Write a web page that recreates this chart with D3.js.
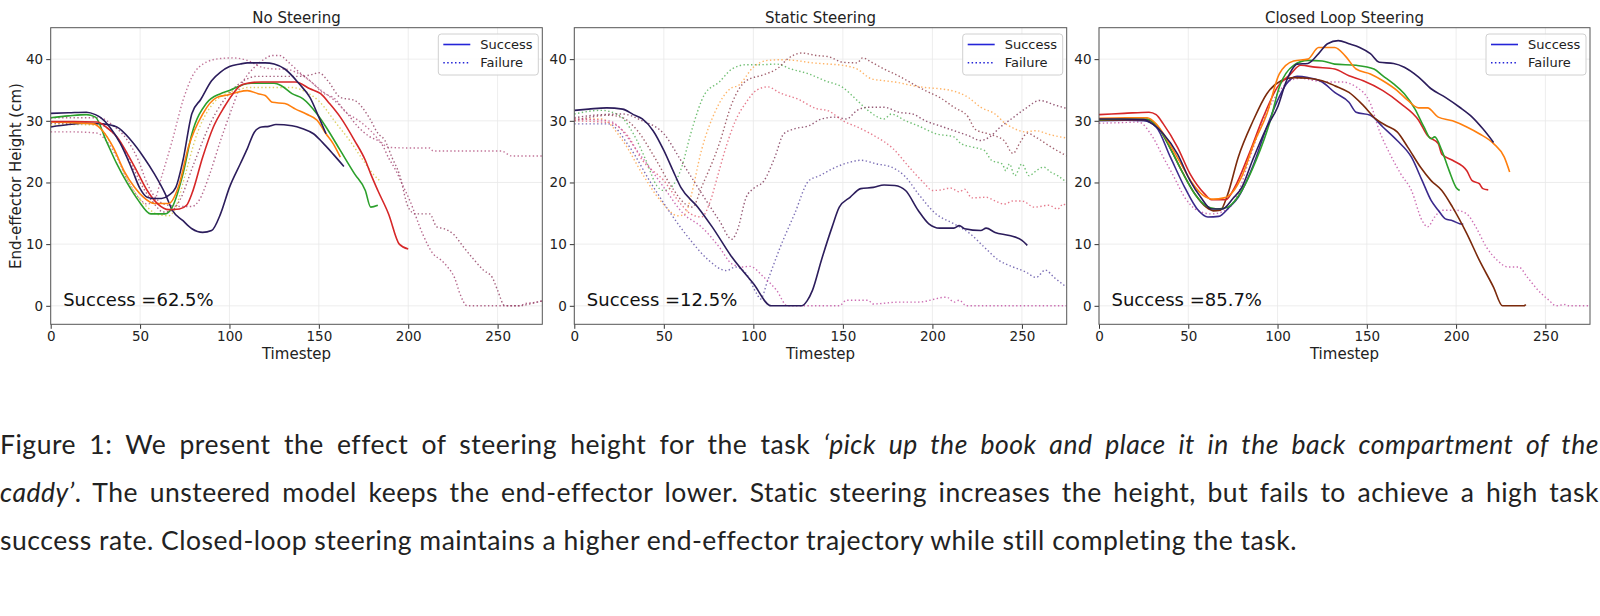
<!DOCTYPE html>
<html><head><meta charset="utf-8">
<script src="https://cdn.jsdelivr.net/npm/d3@7"></script>
<style>html,body{margin:0;padding:0;background:#fff;} svg{display:block;}</style>
</head><body><svg id="chart" width="1600" height="616"></svg>
<script>
// ---------------- DATA ----------------
const panelTitles = ["No Steering", "Static Steering", "Closed Loop Steering"];
const successRates = ["Success =62.5%", "Success =12.5%", "Success =85.7%"];
const xTicks = [0, 50, 100, 150, 200, 250];
const yTicks = [0, 10, 20, 30, 40];
const xLabel = "Timestep";
const yLabel = "End-effector Height (cm)";
const legendLabels = ["Success", "Failure"];

// No Steering – successes
const ns_s1 = [[0,31.2],[10,31.3],[20,31.4],[25,31.0],[28,30.5],[33,29],[39,26.3],[45,22.5],[50,19],[54,17.6],[58,17.4],[62,17.4],[66,17.9],[70,19.2],[74,23.6],[79,31.2],[84,33.5],[90,36.5],[95,37.9],[100,38.8],[106,39.2],[110,39.4],[120,39.4],[125,39.2],[131,38.4],[139,36],[145,33.8],[150,30.6],[154,27.9]];
const ns_s2 = [[0,29],[10,29.4],[20,29.6],[29,29.5],[37,29],[45,26.8],[52,24.1],[58,21.4],[64,18.2],[68,15.5],[74,13.8],[79,12.5],[85,11.9],[90,12.2],[95,14.9],[100,19.2],[106,23],[110,25.5],[114,28.2],[118,29],[122,29.1],[126,29.4],[135,29.2],[141,28.7],[147,27.9],[152,26.5],[158,24.6],[164,22.6]];
const ns_s3 = [[0,30.5],[10,30.8],[20,31],[25,30.6],[31,26.8],[37,23],[43,19.8],[49,17.1],[56,14.9],[64,14.9],[68,16],[74,21.4],[79,27.9],[87,32.8],[95,34.4],[100,34.9],[106,35.7],[112,36.1],[125,36.1],[129,35.7],[135,34.4],[141,33.6],[149,31.1],[154,29],[162,25.2],[170,21.4],[176,18.7],[179,16],[183,16.3]];
const ns_s4 = [[0,29.8],[12,29.7],[24,29.5],[29,28.4],[35,25.7],[41,21.9],[47,19.2],[52,17.6],[58,16.6],[66,16.6],[72,19.8],[77,25.7],[85,31.1],[93,33.8],[99,34.2],[104,34.6],[110,34.9],[116,34.4],[120,34.1],[124,33],[131,32.8],[137,31.9],[143,31.1],[149,30.1],[154,27.9],[158,26.3],[162,24.1]];
const ns_s5 = [[0,29.9],[13,29.9],[26,29.8],[31,29],[37,27.4],[43,24.6],[49,21.4],[54,18.7],[60,16.5],[66,15.6],[72,15.7],[76,16.3],[79,18.2],[85,24.1],[91,29],[97,32.2],[102,34.4],[106,35.7],[110,36.1],[118,36.3],[137,36.3],[145,35.2],[151,34.4],[156,32.8],[162,30.6],[170,26.8],[176,23.6],[179,21.4],[183,18.7],[189,14.9],[195,10],[200,9.2]];
// No Steering – failures
const ns_f1 = [[0,28.2],[13,28.2],[26,28],[31,26.8],[37,24.1],[43,20.3],[49,17.6],[54,16.5],[58,17.1],[62,20.9],[68,26.8],[74,33.3],[79,37.1],[87,39.5],[95,40.1],[102,40.2],[110,39.8],[118,38.7],[126,38.4],[131,38.4],[137,37.9],[145,36.5],[152,34.6],[160,33.3],[164,31.7],[172,30.1],[179,28.4],[185,26.5],[189,25.7],[200,25.6],[212,25.6],[214,25.1],[252,25.1],[258,24.3],[275,24.3]];
const ns_f2 = [[0,30.5],[14,30.5],[27,30.5],[35,29.2],[43,26.8],[49,23.6],[54,19.8],[60,17.1],[66,16.3],[74,16.1],[79,16.1],[83,17.1],[89,21.4],[95,26.8],[101,31.7],[106,35.5],[114,38.7],[120,40.1],[124,40.6],[128,40.6],[133,39.5],[139,37.9],[145,36.5],[151,35],[158,33.5],[165,31.5],[172,29],[178,27.5],[185,26.3],[189,24],[193,22],[197,19.5],[201,17],[208,11.7],[214,8.4],[218,7.5],[222,6.3],[226,4.5],[229,1.9],[233,0],[262,0],[266,0.4],[270,0.5],[275,0.8]];
const ns_f3 = [[0,29.6],[12,29.6],[25,29.5],[35,28],[45,23],[52,19],[58,16.5],[63,15.2],[68,15.5],[72,17],[80,23],[90,30],[100,34.5],[108,36.5],[115,37.2],[140,37.2],[146,37.5],[150,37.8],[155,36.5],[162,33.8],[170,33.3],[178,30.6],[183,28],[187,26.8],[191,24],[195,21.4],[200,16],[204,14.9],[212,14.9],[216,12.8],[220,12.5],[225,11.7],[231,9.5],[237,7.4],[242,5.8],[247,4.6],[250,2.5],[254,0],[262,0],[268,0.3],[272,0.6],[275,0.8]];
const ns_f4 = [[0,29.3],[12,29.4],[25,29.3],[30,28],[36,25],[42,21],[48,18],[54,16],[60,14.8],[66,14.6],[70,16],[75,21],[82,28],[90,32.5],[98,34.4],[105,35],[110,35.4],[135,35.4],[142,34.8],[150,33.2],[160,29.5],[168,26.5],[175,23.5],[180,21.5],[184,20.3]];

// Static Steering – success
const ss_s1 = [[0,31.7],[8,31.9],[18,32.1],[27,31.9],[33,31],[38,30.3],[44,28.4],[50,25.2],[55,22],[59.5,19.2],[69,16],[77,12.8],[88,7.9],[100,3.6],[110,0],[127,0],[130,0.8],[133,2.5],[138,7.4],[144,12.8],[148,16],[154,17.6],[160,19],[167,19.2],[173,19.6],[179,19.5],[185,18.7],[192,15.5],[198,13.3],[204,12.6],[212,12.6],[215,13],[218,12.5],[227,12.2],[230,12.6],[235,11.9],[243,11.4],[250,10.6],[253,9.8]];
// Static Steering – failures
const ss_f1 = [[0,31.1],[15,31.7],[25,30.9],[33,27.9],[40,23.6],[46,19.5],[50,18.7],[54,19.2],[60,22.5],[65,27.9],[73,34.4],[81,36.3],[88,38.4],[96,39.1],[104,39.1],[113,39.2],[121,38.4],[131,37.6],[140,36.5],[150,35.4],[158,33.3],[164,31.7],[173,30.3],[177,31.1],[185,30],[192,29.2],[202,27.9],[212,27.4],[216,26.3],[223,25.7],[229,25.2],[233,23.6],[239,23],[241,21.9],[243,23],[246,21.1],[250,23],[254,21.1],[258,21.9],[262,22.5],[266,21.7],[270,21.1],[275,20]];
const ss_f2 = [[0,30.3],[15,30.3],[27,26.8],[38,21.4],[48,17.1],[58,14.6],[62,14.9],[65,17.6],[71,25.2],[79,31.7],[87,35.2],[92,35.8],[100,38.7],[108,39.8],[115,39.9],[123,39.8],[133,39.4],[142,39.2],[150,39],[158,38.4],[166,36.8],[173,36.5],[181,36.2],[189,35.7],[196,35.4],[204,35.2],[212,34.8],[220,33.8],[227,32.2],[235,31.1],[241,29.5],[246,28.7],[252,28.2],[258,28.4],[265,27.8],[275,27.2]];
const ss_f3 = [[0,30],[19,30.9],[27,30.5],[35,28.5],[45,24],[55,19],[62,16.5],[66,16],[71,19.2],[81,26.3],[88,32.8],[96,36.5],[106,37.5],[114,38.6],[119,40],[127,41],[135,40.6],[142,40.4],[150,39.5],[158,39.4],[161,40.2],[166,39.5],[173,38.4],[181,37.3],[189,36],[196,34.9],[204,33.8],[212,32.2],[220,30.6],[224,28.6],[231,27.9],[240,26.8],[245,24.7],[249,26.5],[253,28],[258,27.3],[266,25.8],[275,24.3]];
const ss_f4 = [[0,30.5],[15,31],[27,31.1],[38,30],[50,27.9],[59.5,23.6],[69,19.2],[81,13.8],[88,10.8],[91,12.2],[96,17.6],[100,19],[106,20.3],[112,24.1],[117,27.9],[123,28.7],[131,29.2],[138,30.3],[146,30.6],[152,30.3],[158,31.7],[164,32.2],[173,32.2],[181,31.4],[189,31.1],[196,30],[204,29.2],[212,28.4],[220,27.6],[227,26.8],[232,27.4],[238,29],[245,30.5],[252,32],[260,33.3],[268,32.6],[275,32]];
const ss_f5 = [[0,30],[19,29.7],[30,27.5],[38,23.6],[50,20.3],[59.5,16.5],[65,14.9],[71,14.4],[76,17],[80,21],[85,26],[90,30],[96,33],[102,35],[108,35.5],[115,34.5],[125,33.5],[135,32],[142,31.6],[150,30],[158,29],[168,27.5],[178,25.5],[187,22.5],[195,20],[200,18.7],[205,18.8],[210,19.1],[215,18.5],[218,18.9],[222,17.5],[230,17.6],[235,17],[240,16.5],[245,17],[250,17],[257,16],[265,16.3],[270,15.7],[273,16.5],[275,16]];
const ss_f6 = [[0,29.5],[19,29.5],[31,25.7],[42,20.3],[54,14.9],[65,10.6],[75,7.4],[85,5.7],[90,6.3],[96,5.2],[102,1.9],[104,1.1],[108,4.1],[115,9.5],[123,14.9],[131,20.3],[137,21.1],[144,22.2],[154,23.3],[160,23.6],[169,23],[177,22.5],[185,20.9],[192,18.2],[202,14.9],[212,13.3],[221,11.7],[229,9.5],[237,7.4],[245,6.3],[252,5.5],[258,4.6],[263,5.8],[268,4.6],[275,3]];
const ss_f7 = [[0,30.3],[19,30],[38,24],[50,19.2],[61,14.9],[71,12.8],[81,9.5],[88,6.8],[94,6.3],[98,6.4],[106,4.6],[113,2.5],[119,0],[148,0],[152,0.9],[164,0.9],[167,0.3],[181,0.6],[192,0.6],[208,1.4],[212,0.6],[215,0.9],[219,0],[275,0]];

// Closed Loop Steering – successes
const cl_s1 = [[0,30.3],[12,30.3],[25,30.2],[30,29.5],[36,27.9],[44,24.6],[51,20.3],[57,17.6],[63,15.7],[69,15.7],[75,17.4],[80,19.2],[86,23.6],[94,29],[100,32.2],[105,36.5],[111,39.2],[117,39.3],[123,40.9],[128,42.5],[134,43],[140,42.5],[146,41.9],[152,40.9],[157,39.5],[165,39.3],[171,38.7],[179,37.1],[186,35.2],[194,33.8],[202,32.2],[209,30.6],[215,28.7],[221,26.5]];
const cl_s2 = [[0,30.4],[15,30.5],[27,30.5],[32,29.5],[38,27],[45,23.5],[52,20],[58,18],[64,17.3],[70,17.5],[75,18.5],[80,21],[87,26.5],[94,31.1],[101,37.6],[109,39.7],[117,40],[123,41.9],[132,41.9],[138,40.5],[144,38.4],[152,37.6],[159,36.5],[167,34.9],[173,33.3],[179,32.1],[184,32.1],[190,30.6],[198,30],[206,29],[213,27.9],[221,26.3],[227,24.1],[230,21.7]];
const cl_s3 = [[0,30.2],[15,30.3],[27,30.3],[33,29],[40,25.5],[47,21.5],[54,18],[60,16.2],[66,15.7],[72,16],[76,17],[80,18.7],[88,23.6],[96,30.1],[101,35.5],[109,39],[117,39.8],[125,39.7],[132,39.2],[144,39],[154,38.4],[159,37.3],[165,36],[171,34.4],[177,31.9],[182,29],[186,27.1],[188,27.4],[192,25.2],[196,22],[200,19.2],[202,18.7]];
const cl_s4 = [[0,31],[14,31.2],[28,31.4],[32,31],[36,29.5],[44,25.7],[51,21.4],[59,18.2],[63,17.2],[71,17.2],[76,19.2],[84,24.6],[92,30.6],[100,35.5],[107,37.5],[113,39],[121,38.7],[132,38.4],[140,37.3],[148,36.5],[159,34.9],[169,32.8],[179,30.1],[184,27.6],[190,26.3],[192,24.6],[198,23.6],[206,21.9],[209,20.3],[213,19.8],[215,19],[218,18.8]];
const cl_s5 = [[0,30.1],[15,30.2],[27,30.2],[33,29],[40,25.5],[47,21.5],[54,18],[60,16],[64,15.4],[68,15.5],[72,18],[78,24.1],[86,29.8],[94,34.4],[102,36.5],[109,37],[117,36.9],[125,36.5],[132,35.7],[140,34.6],[148,32.5],[155,30.3],[161,29.2],[167,28.2],[173,25.7],[180,22.5],[186,20.3],[192,18.7],[198,16],[206,11.7],[213,7.4],[221,3],[226,0],[238,0],[239,0.2]];
const cl_s6 = [[0,30],[15,30.1],[25,30],[32,29],[40,24.1],[48,19.2],[55,15.7],[61,14.4],[67,14.5],[73,16],[78,17.6],[86,22.5],[94,29],[100,33.3],[105,36],[111,37.2],[117,37],[125,36.3],[132,34.6],[140,33],[144,31.4],[152,30.9],[159,29],[167,26.8],[175,24.1],[181,20.3],[186,17.1],[190,15.5],[194,14.1],[198,13.8],[202,13.3],[204,13.2]];
// Closed Loop Steering – failure
const cl_f1 = [[0,29.6],[12,29.7],[22,29.8],[30,27.4],[36,24.1],[42,20.9],[48,17.6],[55,15.5],[63,14.9],[71,15.5],[77,17.6],[84,23.6],[92,30.1],[100,34.4],[107,36.5],[113,36.9],[121,36.5],[128,36.3],[136,36.3],[144,35.5],[152,32.8],[157,28.4],[163,24.6],[169,21.4],[175,18.7],[181,13.8],[184,12.8],[188,14.4],[192,15.5],[200,15.5],[206,14.9],[211,12.8],[217,9.5],[223,7.4],[229,6.3],[235,6.3],[240,4.6],[246,2.5],[252,0.9],[256,0],[261,0.2],[263,0],[275,0]];

const captionLines = [
  [["Figure 1: We present the effect of steering height for the task ", false], ["‘pick up the book and place it in the back compartment of the", true]],
  [["caddy’", true], [". The unsteered model keeps the end-effector lower. Static steering increases the height, but fails to achieve a high task", false]],
  [["success rate. Closed-loop steering maintains a higher end-effector trajectory while still completing the task.", false]]
];

// ---------------- STYLE / LAYOUT ----------------
const C = {navy:"#2c1d5c", indigo:"#3b2a8c", green:"#2ca02c", orange:"#ff7f0e", red:"#d62728", brown:"#7b2a0c",
  pink:"#b2507e", pink2:"#a0406e", pink3:"#8e3a5e", yellow:"#d4c43a",
  lgreen:"#4caf50", lorange:"#ffa040", maroon:"#8b3a4a", maroon2:"#7a3052", lred:"#e05a70", lnavy:"#5a4aa2", magenta:"#c04aa0"};

const panels = [
  {title:panelTitles[0], rate:successRates[0], left:50.7, right:542.3, series:[
    {d:ns_f1,c:C.pink,f:1},{d:ns_f2,c:C.pink2,f:1},{d:ns_f3,c:C.pink3,f:1},{d:ns_f4,c:C.yellow,f:1},
    {d:ns_s2,c:C.navy},{d:ns_s3,c:C.green},{d:ns_s4,c:C.orange},{d:ns_s5,c:C.red},{d:ns_s1,c:C.navy}]},
  {title:panelTitles[1], rate:successRates[1], left:574.3, right:1066.7, series:[
    {d:ss_f1,c:C.lgreen,f:1},{d:ss_f2,c:C.lorange,f:1},{d:ss_f3,c:C.maroon,f:1},{d:ss_f4,c:C.maroon2,f:1},
    {d:ss_f5,c:C.lred,f:1},{d:ss_f6,c:C.lnavy,f:1},{d:ss_f7,c:C.magenta,f:1},{d:ss_s1,c:C.navy}]},
  {title:panelTitles[2], rate:successRates[2], left:1099, right:1590, series:[
    {d:cl_f1,c:C.magenta,f:1},
    {d:cl_s6,c:C.indigo},{d:cl_s5,c:C.brown},{d:cl_s4,c:C.red},{d:cl_s3,c:C.green},{d:cl_s2,c:C.orange},{d:cl_s1,c:C.navy}]}
];
const plotTop = 27.7, plotBottom = 324.3;
const FONT = "'DejaVu Sans', sans-serif";

const svg = d3.select("#chart");
svg.append("rect").attr("width",1600).attr("height",616).attr("fill","#fff");

panels.forEach((p, i) => {
  const x = d3.scaleLinear().domain([0, 275]).range([p.left, p.right]);
  const y = d3.scaleLinear().domain([-3.0, 45.1]).range([plotBottom, plotTop]);
  const g = svg.append("g");

  // grid
  g.selectAll(".gx").data(xTicks).join("line")
    .attr("x1", d => x(d)).attr("x2", d => x(d)).attr("y1", plotTop).attr("y2", plotBottom)
    .attr("stroke", "#e8e8e8").attr("stroke-width", 0.8);
  g.selectAll(".gy").data(yTicks).join("line")
    .attr("x1", p.left).attr("x2", p.right).attr("y1", d => y(d)).attr("y2", d => y(d))
    .attr("stroke", "#e8e8e8").attr("stroke-width", 0.8);

  // lines
  const clipId = "clip" + i;
  svg.append("clipPath").attr("id", clipId).append("rect")
    .attr("x", p.left).attr("y", plotTop).attr("width", p.right - p.left).attr("height", plotBottom - plotTop);
  const line = d3.line().x(d => x(d[0])).y(d => y(d[1])).curve(d3.curveMonotoneX);
  const lg = g.append("g").attr("clip-path", `url(#${clipId})`);
  p.series.forEach(s => {
    lg.append("path").attr("d", line(s.d)).attr("fill", "none")
      .attr("stroke", s.c).attr("stroke-width", s.f ? 1.4 : 1.6)
      .attr("stroke-opacity", s.f ? 0.8 : 1)
      .attr("stroke-dasharray", s.f ? "1.4,2.4" : null)
      .attr("stroke-linejoin", "round");
  });

  // axes
  const ax = g.append("g").attr("transform", `translate(0,${plotBottom})`)
    .call(d3.axisBottom(x).tickValues(xTicks).tickSize(4.5).tickPadding(3));
  const ay = g.append("g").attr("transform", `translate(${p.left},0)`)
    .call(d3.axisLeft(y).tickValues(yTicks).tickSize(4.5).tickPadding(3));
  [ax, ay].forEach(a => {
    a.select(".domain").remove();
    a.selectAll("line").attr("stroke", "#333");
    a.selectAll("text").attr("font-family", FONT).attr("font-size", 13.5).attr("fill", "#222");
  });

  // frame
  g.append("rect").attr("x", p.left).attr("y", plotTop).attr("width", p.right - p.left).attr("height", plotBottom - plotTop)
    .attr("fill", "none").attr("stroke", "#555").attr("stroke-width", 1);

  // title & x label
  g.append("text").attr("x", (p.left + p.right) / 2).attr("y", 22.5).attr("text-anchor", "middle")
    .attr("font-family", FONT).attr("font-size", 15).attr("fill", "#222").text(p.title);
  g.append("text").attr("x", (p.left + p.right) / 2).attr("y", 359).attr("text-anchor", "middle")
    .attr("font-family", FONT).attr("font-size", 15).attr("fill", "#222").text(xLabel);

  // success text
  g.append("text").attr("x", p.left + 12.5).attr("y", y(0)).attr("font-family", FONT)
    .attr("font-size", 18).attr("fill", "#111").text(p.rate);

  // legend
  const lw = 100, lh = 41, lx = p.right - 4 - lw, ly = 34;
  const leg = g.append("g");
  leg.append("rect").attr("x", lx).attr("y", ly).attr("width", lw).attr("height", lh).attr("rx", 3)
    .attr("fill", "#fff").attr("fill-opacity", 0.85).attr("stroke", "#d0d0d0").attr("stroke-width", 1);
  legendLabels.forEach((lab, k) => {
    const yy = ly + 10.5 + k * 18.3;
    leg.append("line").attr("x1", lx + 5).attr("x2", lx + 32).attr("y1", yy).attr("y2", yy)
      .attr("stroke", "#2424d8").attr("stroke-width", 1.6).attr("stroke-dasharray", k ? "1.5,2.4" : null);
    leg.append("text").attr("x", lx + 42).attr("y", yy + 4.6).attr("font-family", FONT)
      .attr("font-size", 13).attr("fill", "#222").text(lab);
  });
});

// y label (first panel only)
svg.append("text").attr("transform", `translate(21,${(plotTop + plotBottom) / 2}) rotate(-90)`)
  .attr("text-anchor", "middle").attr("font-family", FONT).attr("font-size", 15).attr("fill", "#222").text(yLabel);

// caption
const CAPFONT = "Lato, 'Noto Sans', sans-serif";
const capBase = [454, 502, 550];
const capSize = 26.5;
const capTexts = captionLines.map((parts, i) => {
  const t = svg.append("text").attr("x", 0).attr("y", capBase[i]).attr("font-family", CAPFONT)
    .attr("font-weight", 400).attr("fill", "#222").attr("font-size", capSize)
    .style("font-variant-ligatures", "none");
  parts.forEach(([s, it]) => t.append("tspan").attr("font-style", it ? "italic" : "normal").text(s));
  return t;
});
// letter-spacing calibrated so the last (unjustified) line ends where it does in the figure
const line3 = captionLines[2].map(p => p[0]).join("");
const w3 = capTexts[2].node().getComputedTextLength();
const ls = (1297 - w3) / line3.length;
capTexts.forEach(t => t.attr("letter-spacing", ls));
[0, 1].forEach(i => {
  const t = capTexts[i];
  const w = t.node().getComputedTextLength();
  const n = captionLines[i].map(p => p[0]).join("").split(" ").length - 1;
  t.attr("word-spacing", Math.max(0, (1599 - w) / n));
});
</script></body></html>
